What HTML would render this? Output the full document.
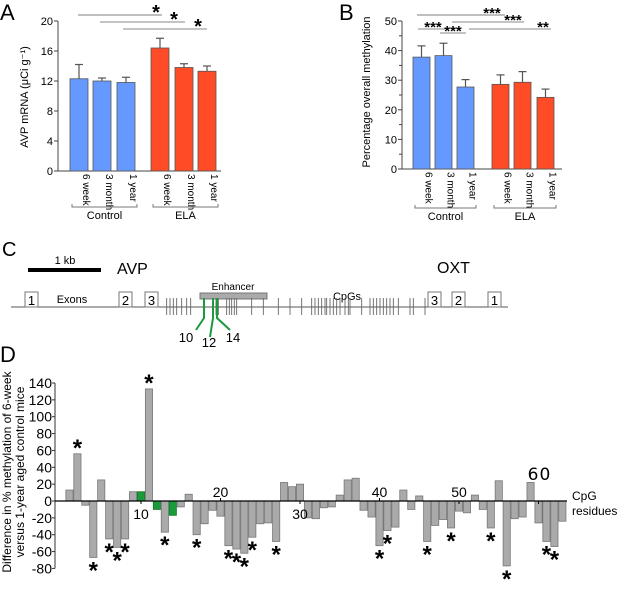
<!DOCTYPE html>
<html><head><meta charset="utf-8"><style>
body{margin:0;background:#fff}
svg{display:block;font-family:"Liberation Sans",sans-serif}
</style></head><body>
<svg id="fig" width="624" height="593" viewBox="0 0 624 593">
<g id="pa"></g>
<g id="pb"></g>
<g id="pc"></g>
<g id="pd"></g>
</svg>
<script>
const NS="http://www.w3.org/2000/svg";
// Panel A data
const aCategories=["6 week","3 month","1 year","6 week","3 month","1 year"];
const aValues=[12.3,12.0,11.8,16.4,13.8,13.3];
const aErrors=[1.9,0.4,0.7,1.3,0.5,0.7];
const aTicks=[0,4,8,12,16,20];
// Panel B data
const bCategories=["6 week","3 month","1 year","6 week","3 month","1 year"];
const bValues=[37.8,38.3,27.7,28.6,29.3,24.2];
const bErrors=[3.8,4.2,2.5,3.2,3.6,2.8];
const bTicks=[0,10,20,30,40,50];
// Panel D data
const dValues=[13,56,-5,-67,25,-45,-55,-45,11,11,133,-10,-37,-17,-7,8,-40,-27,-11,-18,-53,-57,-62,-43,-27,-26,-48,22,17,20,-20,-21,-8,-7,7,25,27,-11,-19,-53,-35,-31,13,-10,6,-48,-29,-22,-32,-12,-14,7,-10,-32,24,-77,-21,-19,22,-26,-48,-54,-24];
const dGreen=[10,12,14];
const dSig=[2,4,6,7,8,11,13,17,21,22,23,24,27,40,41,46,49,54,56,61,62];
const dTicks=[140,120,100,80,60,40,20,0,-20,-40,-60,-80];
const dXTicks=[10,20,30,40,50];

function el(p,tag,attrs,txt){const e=document.createElementNS(NS,tag);for(const k in attrs)e.setAttribute(k,attrs[k]);if(txt!==undefined)e.textContent=txt;p.appendChild(e);return e;}

function barPanel(g,cfg){
  const y=v=>cfg.y0-(v-0)*(cfg.y0-cfg.y1)/cfg.max;
  el(g,'line',{x1:cfg.ax,y1:cfg.y1,x2:cfg.ax,y2:cfg.y0,stroke:'#444','stroke-width':1});
  el(g,'line',{x1:cfg.ax,y1:cfg.y0,x2:cfg.axEnd,y2:cfg.y0,stroke:'#444','stroke-width':1});
  cfg.ticks.forEach(t=>{
    el(g,'line',{x1:cfg.ax-4,y1:y(t),x2:cfg.ax,y2:y(t),stroke:'#444'});
    const tl=el(g,'text',{x:cfg.ax-5,y:y(t)+4,'text-anchor':'end','font-size':11},t);
    
    
  });
  if(cfg.minor)cfg.ticks.slice(0,-1).forEach((t,i)=>{const m=(t+cfg.ticks[i+1])/2;el(g,'line',{x1:cfg.ax-3,y1:y(m),x2:cfg.ax,y2:y(m),stroke:'#444'});});
  cfg.values.forEach((v,i)=>{
    const x=cfg.xs[i],w=cfg.w,c=i<3?'#6699ff':'#ff4c26';
    const top=y(v+cfg.errors[i]);
    el(g,'line',{x1:x+w/2,y1:top,x2:x+w/2,y2:y(v),stroke:'#555','stroke-width':1.2});
    el(g,'line',{x1:x+w/2-4,y1:top,x2:x+w/2+4,y2:top,stroke:'#555','stroke-width':1.2});
    const r=el(g,'rect',{x:x,y:y(v),width:w,height:cfg.y0-y(v),fill:c,stroke:'#555','stroke-width':0.8});
    
    
    const tx=x+w/2+4,ty=cfg.y0+3;
    const t=el(g,'text',{x:tx,y:ty,transform:`rotate(90 ${tx} ${ty})`,'font-size':10},cfg.cats[i]);
    
    
  });
  [[0,'Control'],[3,'ELA']].forEach(([s,l])=>{
    const x1=cfg.xs[s]+2,x2=cfg.xs[s+2]+cfg.w+2;
    el(g,'path',{d:`M${x1} ${cfg.by-3}V${cfg.by}H${x2}V${cfg.by-3}`,stroke:'#777',fill:'none'});
    const t=el(g,'text',{x:(x1+x2)/2,y:cfg.by+12,'text-anchor':'middle','font-size':11},l);
    
    
  });
  const yl=el(g,'text',{x:cfg.ylx,y:cfg.yly,transform:`rotate(-90 ${cfg.ylx} ${cfg.yly})`,'text-anchor':'middle','font-size':11},cfg.ylabel);
  
  
  cfg.sig.forEach(s=>{
    el(g,'line',{x1:s[0],y1:s[1],x2:s[2],y2:s[1],stroke:s[5]||'#888','stroke-width':s[5]?1.6:1});
    const t=el(g,'text',{x:s[3],y:s[1]+(s[4].length>1?3:4),'font-size':s[4].length>1?15:20,'text-anchor':'middle','font-weight':'bold'},s[4]);
    
    
  });
  const L=el(g,'text',{x:cfg.lx,y:20,'font-size':22},cfg.letter);
  
  
}
barPanel(document.getElementById('pa'),{ax:58,axEnd:221,y0:171,y1:21,max:20,ticks:aTicks,values:aValues,errors:aErrors,cats:aCategories,
 xs:[70,93,117,151,175,198],w:18,by:207,ylx:28,yly:97,ylabel:'AVP mRNA (μCi g⁻¹)',letter:'A',lx:0,
 sig:[[78,15,162,156,'*','#aaa'],[100,22,185,174,'*'],[123,29,207,198,'*']]});
barPanel(document.getElementById('pb'),{ax:402,axEnd:562,y0:169,y1:21,max:50,ticks:bTicks,minor:true,values:bValues,errors:bErrors,cats:bCategories,
 xs:[413,435,457,492,514,537],w:17,by:208,ylx:370,yly:92,ylabel:'Percentage overall methylation',letter:'B',lx:339,
 sig:[[417,15,505,492,'***','#aaa'],[452,22,524,513,'***'],[418,29,445,433,'***'],[469,29,551,543,'**'],[440,33,466,453,'***']]});

// Panel C
(function(){
 const g=document.getElementById('pc');
 const C=el(g,'text',{x:2,y:256,'font-size':20},'C');
 el(g,'rect',{x:28,y:268,width:73,height:4,fill:'#000'});
 el(g,'text',{x:65,y:264,'text-anchor':'middle','font-size':11},'1 kb');
 el(g,'text',{x:117,y:274,'font-size':16},'AVP');
 el(g,'text',{x:437,y:273,'font-size':16},'OXT');
 el(g,'line',{x1:11,y1:307,x2:508,y2:307,stroke:'#555'});
 [[25,'1'],[119,'2'],[145,'3'],[428,'3'],[452,'2'],[488,'1']].forEach(([x,l])=>{
  const r=el(g,'rect',{x:x,y:292,width:13,height:15,fill:'#fff',stroke:'#777'});
  
  el(g,'text',{x:x+6.5,y:305,'text-anchor':'middle','font-size':13},l);
 });
 el(g,'text',{x:72,y:303,'text-anchor':'middle','font-size':11},'Exons');
 const en=el(g,'rect',{x:200,y:293,width:67,height:6,fill:'#aaa',stroke:'#777'});
 
 el(g,'text',{x:233,y:290,'text-anchor':'middle','font-size':10},'Enhancer');
 el(g,'text',{x:347,y:300,'text-anchor':'middle','font-size':11},'CpGs');
 const cpg=[500,510,520,530,545,560,572,612,640,648,655,680,688,695,703,710,755,790,835,870,905,935,945,955,965,975,980,990,1000,1010,1020,1035,1045,1050,1085,1110,1120,1130,1140,1150,1160,1170,1180,1195,1230,1240,1275];
 cpg.forEach(z=>el(g,'line',{x1:z/3,y1:298,x2:z/3,y2:315,stroke:'#666','stroke-width':0.9}));
 [[204,'M204 298V318L196 330'],[213,'M213 298V318L210 337'],[217,'M217 298V318L230 330']].forEach(([x,d])=>el(g,'path',{d:d,stroke:'#1a9a3a','stroke-width':2,fill:'none'}));
 el(g,'text',{x:186,y:342,'text-anchor':'middle','font-size':13},'10');
 el(g,'text',{x:209,y:347,'text-anchor':'middle','font-size':13},'12');
 el(g,'text',{x:233,y:342,'text-anchor':'middle','font-size':13},'14');
})();

// Panel D
(function(){
 const g=document.getElementById('pd');
 const y0=501,k=118/140;
 const y=v=>y0-v*k, x=i=>141+(i-10)*7.95;
 const D=el(g,'text',{x:0,y:362,'font-size':22},'D');
 el(g,'line',{x1:55,y1:y(140),x2:55,y2:y(-80),stroke:'#333'});
 dTicks.forEach(t=>{
  el(g,'line',{x1:52,y1:y(t),x2:55,y2:y(t),stroke:'#333'});
  const tl=el(g,'text',{x:52,y:y(t)+5,'text-anchor':'end','font-size':14},t);
  
 });
 dValues.forEach((v,j)=>{
  const i=j+1,green=dGreen.includes(i);
  const r=el(g,'rect',{x:x(i)-3.6,y:v>0?y(v):y0,width:7.2,height:Math.abs(v)*k,fill:green?'#1a9a3a':'#aaa',stroke:green?'#117a2a':'#777','stroke-width':0.8});
  
  
  if(dSig.includes(i)){
   const s=el(g,'text',{x:x(i),y:v>0?y(v)+2:y(v)+21,'text-anchor':'middle','font-size':24,'font-weight':'bold'},'*');
   
   
  }
 });
 el(g,'line',{x1:55,y1:y0,x2:567,y2:y0,stroke:'#000','stroke-width':1.3});
 dXTicks.forEach(t=>{
  el(g,'line',{x1:x(t),y1:y0,x2:x(t),y2:y0+(t%20?3:-3),stroke:'#000'});
  const below=(t===10||t===30);
  const tl=el(g,'text',{x:x(t),y:below?y0+18:y0-4,'text-anchor':'middle','font-size':14},t);
  
 });
 el(g,'line',{x1:x(60),y1:y0,x2:x(60),y2:y0+3,stroke:'#000'});
 const s60=el(g,'text',{x:x(60)+1,y:y0-21,'text-anchor':'middle','font-size':17,'font-family':'DejaVu Sans,sans-serif','letter-spacing':'1'},'60');
 
 el(g,'text',{x:572,y:500,'font-size':12},'CpG');
 el(g,'text',{x:572,y:515,'font-size':12},'residues');
 const t1=el(g,'text',{x:11,y:472,transform:'rotate(-90 11 472)','text-anchor':'middle','font-size':12},'Difference in % methylation of 6-week');
 
 const t2=el(g,'text',{x:24,y:472,transform:'rotate(-90 24 472)','text-anchor':'middle','font-size':12},'versus 1-year aged control mice');
 
})();
</script>
</body></html>
